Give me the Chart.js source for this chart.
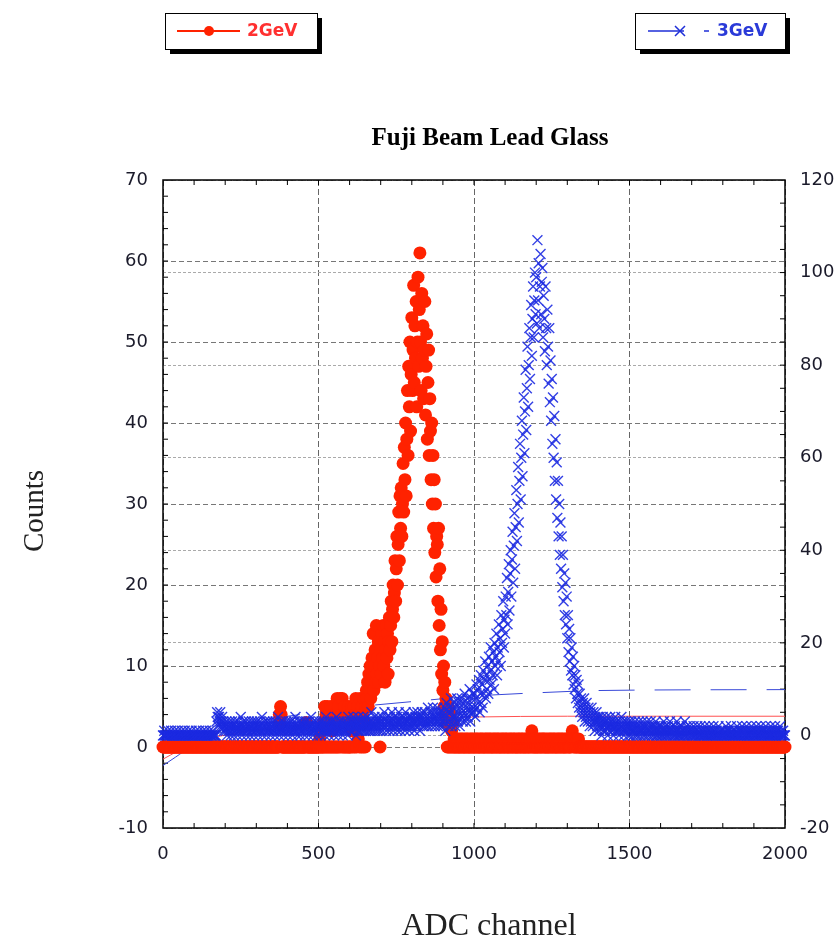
<!DOCTYPE html>
<html>
<head>
<meta charset="utf-8">
<title>Fuji Beam Lead Glass</title>
<script src="https://cdn.jsdelivr.net/npm/chart.js@4.4.0/dist/chart.umd.min.js"></script>
<style>
  html, body { margin: 0; padding: 0; background: #fff; }
  canvas { display: block; }
</style>
</head>
<body>
<canvas id="chart" width="838" height="943"></canvas>
<script>
// ADC spectra, one value every 2 channels from 0 to 2000 (one line = 100 channels)
const channelStep = 2;

// 2GeV run (left axis)
const redCounts = [
  0,0,0,0,0,0,0,0,0,0, 0,0,0,0,0,0,0,0,0,0, 0,0,0,0,0,0,0,0,0,0, 0,0,0,0,0,0,0,0,0,0, 0,0,0,0,0,0,0,0,0,0,
  0,0,0,0,0,0,0,0,0,0, 0,0,0,0,0,0,0,0,0,0, 0,0,0,0,0,0,0,0,0,0, 0,0,0,0,0,0,0,0,0,0, 0,0,0,0,0,0,0,0,0,0,
  0,0,0,0,0,0,0,0,0,0, 0,0,0,0,0,0,0,0,0,0, 0,0,0,0,0,0,0,0,0,0, 0,0,0,0,0,0,0,0,0,0, 0,0,0,0,0,0,0,0,0,0,
  0,0,0,0,0,0,0,0,0,0, 0,0,0,0,0,0,0,0,0,0, 0,0,0,0,0,0,0,0,0,0, 0,0,0,0,0,0,0,4,3,5, 4,0,0,0,0,0,0,0,0,0,
  0,0,0,0,0,0,0,0,0,0, 0,0,0,0,0,0,0,0,0,0, 0,0,0,0,0,0,0,0,0,0, 3,3,0,0,0,0,0,0,0,0, 0,0,0,0,0,0,0,0,0,0,
  0,0,1,0,0,2,0,0,3,0, 5,0,4,0,5,0,3,0,4,0, 5,0,2,0,4,0,3,0,4,0, 6,0,5,0,3,6,0,4,6,0, 3,0,5,0,4,0,3,0,5,0,
  0,4,0,5,2,0,3,5,0,4, 6,0,3,5,1,4,0,6,3,0, 5,4,0,6,3,0,5,7,6,8, 5,9,7,10,6,8,11,9,14,7, 10,12,8,15,9,11,13,8,10,0,
  12,9,14,11,15,10,13,8,12,15, 11,14,9,13,16,12,15,18,13,17, 20,16,19,23,18,22,26,20,25,29, 23,31,27,32,26,30,35,29,37,33, 40,31,38,44,36,47,42,50,39,46,
  53,44,49,57,45,52,48,55,42,50, 58,47,54,61,50,44,56,48,52,43, 49,55,41,47,51,38,45,49,36,43, 39,33,40,30,36,27,33,24,30,21, 26,25,18,27,15,22,12,17,9,13,
  7,10,5,8,4,6,3,0,5,0, 3,0,4,0,2,0,3,0,1,0, 0,1,0,1,0,0,1,0,0,1, 0,1,0,0,1,0,0,1,0,1, 0,0,1,0,0,1,0,1,0,0,
  1,0,0,1,0,1,0,0,1,0, 0,1,0,1,0,0,1,0,0,1, 0,1,0,0,1,0,1,0,0,1, 0,0,1,0,1,0,0,1,0,1, 0,0,1,0,0,1,0,1,0,0,
  1,0,1,0,0,1,0,0,1,0, 1,0,0,1,0,1,0,0,1,0, 0,1,0,1,0,0,1,0,1,0, 0,1,0,0,1,0,1,0,0,1, 0,1,0,2,0,1,0,0,1,0,
  0,1,0,0,1,0,1,0,0,1, 0,1,0,1,0,0,1,0,0,1, 0,0,1,0,1,0,0,1,0,1, 0,0,1,0,0,1,0,1,0,0, 1,0,1,0,0,1,0,0,1,0,
  1,0,1,0,0,1,0,1,2,1, 0,1,0,1,0,0,1,0,1,0, 0,0,0,0,0,0,0,0,0,0, 0,0,0,0,0,0,0,0,0,0, 0,0,0,0,0,0,0,0,0,0,
  0,0,0,0,0,0,0,0,0,0, 0,0,0,0,0,0,0,0,0,0, 0,0,0,0,0,0,0,0,0,0, 0,0,0,0,0,0,0,0,0,0, 0,0,0,0,0,0,0,0,0,0,
  0,0,0,0,0,0,0,0,0,0, 0,0,0,0,0,0,0,0,0,0, 0,0,0,0,0,0,0,0,0,0, 0,0,0,0,0,0,0,0,0,0, 0,0,0,0,0,0,0,0,0,0,
  0,0,0,0,0,0,0,0,0,0, 0,0,0,0,0,0,0,0,0,0, 0,0,0,0,0,0,0,0,0,0, 0,0,0,0,0,0,0,0,0,0, 0,0,0,0,0,0,0,0,0,0,
  0,0,0,0,0,0,0,0,0,0, 0,0,0,0,0,0,0,0,0,0, 0,0,0,0,0,0,0,0,0,0, 0,0,0,0,0,0,0,0,0,0, 0,0,0,0,0,0,0,0,0,0,
  0,0,0,0,0,0,0,0,0,0, 0,0,0,0,0,0,0,0,0,0, 0,0,0,0,0,0,0,0,0,0, 0,0,0,0,0,0,0,0,0,0, 0,0,0,0,0,0,0,0,0,0,
  0,0,0,0,0,0,0,0,0,0, 0,0,0,0,0,0,0,0,0,0, 0,0,0,0,0,0,0,0,0,0, 0,0,0,0,0,0,0,0,0,0, 0,0,0,0,0,0,0,0,0,0,
  0
];

// 3GeV run (right axis)
const blueCounts = [
  0,0,1,0,0,0,0,0,1,0, 0,0,0,1,0,0,0,0,0,1, 0,0,0,0,1,0,0,0,0,0, 1,0,0,0,0,1,0,0,0,0, 0,1,0,0,0,0,1,0,0,0,
  0,0,0,1,0,0,0,0,1,0, 0,0,0,0,1,0,0,0,0,1, 0,0,0,0,0,1,0,0,0,0, 1,0,0,0,0,0,3,5,4,2, 4,3,5,2,3,4,2,3,1,2,
  2,1,3,0,2,1,2,3,1,0, 2,3,1,2,0,1,3,2,1,2, 0,3,1,2,1,4,2,0,1,3, 2,1,2,3,0,1,2,1,3,2, 0,2,1,3,1,2,0,3,2,1,
  1,3,2,0,2,1,3,2,1,4, 0,2,1,3,2,1,0,2,3,1, 2,1,3,0,2,2,1,3,1,2, 0,3,2,1,2,4,1,0,2,3, 1,2,1,3,0,2,1,2,3,1,
  2,0,3,1,2,1,3,2,0,1, 2,3,1,4,2,1,0,2,3,1, 2,0,1,3,2,1,2,3,0,1, 3,2,1,2,0,3,1,2,4,1, 2,0,3,1,2,1,3,2,0,2,
  1,3,2,0,2,3,1,2,1,3, 0,2,4,1,2,3,1,0,2,3, 1,2,1,3,2,0,1,3,2,4, 1,2,0,3,1,2,3,1,2,0, 2,3,1,2,1,3,2,0,4,2,
  1,3,2,1,3,2,4,1,2,3, 0,2,3,1,4,2,1,3,2,3, 1,2,4,1,3,2,1,3,2,4, 1,3,2,1,3,5,2,1,3,2, 4,1,3,2,3,1,4,2,3,1,
  3,2,4,1,3,2,5,2,3,1, 4,2,3,3,1,4,2,3,5,2, 1,3,4,2,3,2,4,1,3,5, 2,3,1,4,2,3,2,4,3,1, 5,2,3,4,2,3,1,4,3,2,
  4,2,3,5,1,3,4,2,3,5, 2,4,3,1,4,3,5,2,4,3, 2,5,3,4,2,3,6,2,4,3, 5,3,2,4,6,3,4,2,5,3, 4,6,2,3,5,4,2,5,3,4,
  2,5,3,6,1,4,7,3,5,2, 6,3,5,8,2,4,6,3,7,4, 2,6,4,8,3,5,7,2,6,4, 8,5,3,7,4,9,5,3,6,8, 4,7,5,10,3,6,8,5,9,6,
  5,9,4,8,11,6,10,7,12,5, 9,13,7,11,6,14,9,12,16,8, 13,10,15,9,17,12,14,19,11,16, 13,18,10,20,15,17,22,13,19,16, 24,18,21,15,26,20,23,29,19,25,
  22,30,26,34,24,31,37,27,35,40, 30,38,44,33,41,48,36,45,53,42, 50,58,46,55,63,51,60,68,56,65, 73,61,70,79,66,75,84,71,80,88, 77,86,93,82,90,97,86,94,100,91,
  99,89,107,94,102,88,97,104,91,98, 101,86,95,90,83,97,88,80,92,84, 76,88,72,81,68,77,63,73,60,69, 55,64,51,59,47,55,43,50,39,46, 36,43,32,39,29,35,26,33,24,30,
  21,26,18,23,16,21,14,19,13,17, 11,15,10,13,8,12,9,7,11,6, 9,5,8,6,4,7,5,8,3,6, 4,7,5,3,6,4,2,5,3,6, 4,2,5,3,1,4,3,5,2,4,
  3,1,4,2,3,0,2,4,1,3, 2,1,3,4,2,0,3,2,1,4, 2,3,1,2,0,3,2,4,1,2, 3,1,2,0,3,1,2,4,2,1, 3,0,2,1,3,2,1,2,0,3,
  2,0,1,3,2,1,0,2,1,3, 0,2,1,0,2,3,1,0,2,1, 1,3,0,2,1,0,2,1,3,0, 1,2,0,1,3,2,0,1,2,0, 1,2,3,0,1,0,2,1,0,2,
  1,0,2,0,1,3,0,1,2,0, 1,0,2,1,0,3,1,0,2,1, 0,1,0,2,0,1,3,0,1,0, 2,0,1,0,2,1,0,1,0,3, 0,1,2,0,1,0,1,2,0,1,
  0,1,0,2,0,1,0,0,1,2, 0,1,0,0,2,0,1,0,1,0, 0,2,0,1,0,0,1,0,2,0, 1,0,0,1,0,2,0,1,0,0, 1,0,0,2,0,1,0,1,0,0,
  1,0,0,1,0,2,0,0,1,0, 1,0,0,2,0,1,0,0,1,0, 0,1,0,2,0,0,1,0,1,0, 0,2,0,1,0,0,1,0,2,0, 0,1,0,0,1,0,2,0,1,0,
  0,1,0,0,2,0,1,0,0,1, 0,2,0,0,1,0,1,0,0,2, 0,1,0,0,1,0,0,2,0,1, 0,0,1,0,2,0,0,1,0,1, 0,0,2,0,1,0,0,1,0,0,
  0
];

// smooth reference curves
const redCurveChannels = [0, 100, 250, 400, 600, 800, 1000, 1300, 2000];
const redCurveValues = [-1.5, 0.5, 1.8, 2.6, 3.2, 3.5, 3.7, 3.8, 3.8];
const blueCurveChannels = [0, 40, 100, 200, 300, 450, 600, 800, 1000, 1200, 1400, 2000];
const blueCurveValues = [-6.5, -4.7, -2, 1, 3, 4.6, 6, 7.3, 8.5, 9.2, 9.7, 9.9];

const seriesNames = ['2GeV', '3GeV'];
const red = '#ff2200';
const blue = '#1f2fd8';
const tickFont = { family: '"DejaVu Sans", sans-serif', size: 18 };
const serif = '"Liberation Serif", "Times New Roman", serif';

const toPoints = (values) => values.map((v, i) => ({ x: i * channelStep, y: v }));
const toCurve = (xs, ys) => xs.map((x, i) => ({ x: x, y: ys[i] }));

function legendBox(ctx, x, y, w, h) {
  ctx.fillStyle = '#000';
  ctx.fillRect(x + 5, y + 5, w, h);
  ctx.fillStyle = '#fff';
  ctx.fillRect(x, y, w, h);
  ctx.strokeStyle = '#000';
  ctx.lineWidth = 1;
  ctx.strokeRect(x + 0.5, y + 0.5, w, h);
}

const decorations = {
  id: 'decorations',
  beforeDatasetsDraw(chart) {
    const { ctx, chartArea: a, scales } = chart;
    ctx.save();
    ctx.strokeStyle = '#000';
    ctx.lineWidth = 1;
    ctx.beginPath();
    for (let v = 100; v < 2000; v += 100) {
      const px = scales.x.getPixelForValue(v);
      ctx.moveTo(px, a.bottom); ctx.lineTo(px, a.bottom - 5);
      ctx.moveTo(px, a.top); ctx.lineTo(px, a.top + 5);
    }
    for (let v = -8; v < 70; v += 2) {
      const py = scales.y.getPixelForValue(v);
      ctx.moveTo(a.left, py); ctx.lineTo(a.left + 5, py);
    }
    for (let v = -15; v < 120; v += 5) {
      const py = scales.y1.getPixelForValue(v);
      ctx.moveTo(a.right, py); ctx.lineTo(a.right - 5, py);
    }
    ctx.stroke();
    ctx.lineWidth = 1.5;
    ctx.strokeRect(a.left, a.top, a.right - a.left, a.bottom - a.top);
    ctx.restore();
  },
  afterDraw(chart) {
    const { ctx } = chart;
    ctx.save();

    // legend boxes
    legendBox(ctx, 165, 13, 152, 36);
    ctx.strokeStyle = red;
    ctx.lineWidth = 2;
    ctx.beginPath();
    ctx.moveTo(177, 31); ctx.lineTo(240, 31);
    ctx.stroke();
    ctx.fillStyle = red;
    ctx.beginPath();
    ctx.arc(209, 31, 5, 0, Math.PI * 2);
    ctx.fill();
    ctx.font = 'bold 17px "DejaVu Sans", sans-serif';
    ctx.textBaseline = 'middle';
    ctx.textAlign = 'left';
    ctx.fillStyle = '#ff3030';
    ctx.fillText(seriesNames[0], 247, 32);

    legendBox(ctx, 635, 13, 150, 36);
    ctx.strokeStyle = blue;
    ctx.lineWidth = 1.5;
    ctx.setLineDash([36, 20]);
    ctx.beginPath();
    ctx.moveTo(648, 31); ctx.lineTo(709, 31);
    ctx.stroke();
    ctx.setLineDash([]);
    ctx.beginPath();
    ctx.moveTo(675, 26); ctx.lineTo(685, 36);
    ctx.moveTo(685, 26); ctx.lineTo(675, 36);
    ctx.stroke();
    ctx.fillStyle = '#2a3ad8';
    ctx.fillText(seriesNames[1], 717, 32);

    // title and axis names
    ctx.fillStyle = '#000';
    ctx.textAlign = 'center';
    ctx.font = 'bold 25px ' + serif;
    ctx.fillText('Fuji Beam Lead Glass', 490, 139);

    ctx.fillStyle = '#222';
    ctx.font = '32px ' + serif;
    ctx.fillText('ADC channel', 489, 927);

    ctx.font = '29px ' + serif;
    ctx.translate(35, 511);
    ctx.rotate(-Math.PI / 2);
    ctx.fillText('Counts', 0, 0);
    ctx.restore();
  }
};

new Chart(document.getElementById('chart'), {
  type: 'scatter',
  data: {
    datasets: [
      {
        label: seriesNames[1],
        data: toPoints(blueCounts),
        yAxisID: 'y1',
        order: 0,
        clip: 10,
        pointStyle: 'crossRot',
        pointRadius: 7,
        pointBorderWidth: 1.4,
        pointBorderColor: 'rgba(28, 42, 225, 0.9)',
        pointBackgroundColor: blue
      },
      {
        label: seriesNames[0],
        data: toPoints(redCounts),
        yAxisID: 'y',
        order: 1,
        clip: 10,
        pointStyle: 'circle',
        pointRadius: 6.5,
        pointBorderWidth: 0,
        pointBackgroundColor: red
      },
      {
        data: toCurve(blueCurveChannels, blueCurveValues),
        yAxisID: 'y1',
        order: 2,
        showLine: true,
        pointRadius: 0,
        borderColor: '#3848d8',
        borderWidth: 1,
        borderDash: [36, 20],
        cubicInterpolationMode: 'monotone'
      },
      {
        data: toCurve(redCurveChannels, redCurveValues),
        yAxisID: 'y',
        order: 3,
        showLine: true,
        pointRadius: 0,
        borderColor: '#ff5050',
        borderWidth: 1,
        cubicInterpolationMode: 'monotone'
      }
    ]
  },
  options: {
    responsive: false,
    animation: false,
    events: [],
    layout: { padding: { top: 180, left: 0, right: 0, bottom: 0 } },
    plugins: {
      legend: { display: false },
      tooltip: { enabled: false }
    },
    scales: {
      x: {
        type: 'linear',
        position: 'bottom',
        min: 0,
        max: 2000,
        afterFit: (s) => { s.height = 115; },
        ticks: { stepSize: 500, padding: 16, color: '#1a1a2a', font: tickFont, callback: (v) => String(v) },
        grid: { color: '#666', lineWidth: 1, drawTicks: false },
        border: { display: false, dash: [6, 3] }
      },
      y: {
        position: 'left',
        min: -10,
        max: 70,
        afterFit: (s) => { s.width = 163; },
        ticks: { stepSize: 10, padding: 15, color: '#1a1a2a', font: tickFont },
        grid: { color: '#777', lineWidth: 1, drawTicks: false },
        border: { display: false, dash: [5, 3] }
      },
      y1: {
        position: 'right',
        min: -20,
        max: 120,
        afterFit: (s) => { s.width = 53; },
        ticks: { stepSize: 20, padding: 15, color: '#1a1a2a', font: tickFont },
        grid: { color: '#aaa', lineWidth: 1, drawTicks: false },
        border: { display: false, dash: [3, 2] }
      }
    }
  },
  plugins: [decorations]
});
</script>
</body>
</html>
